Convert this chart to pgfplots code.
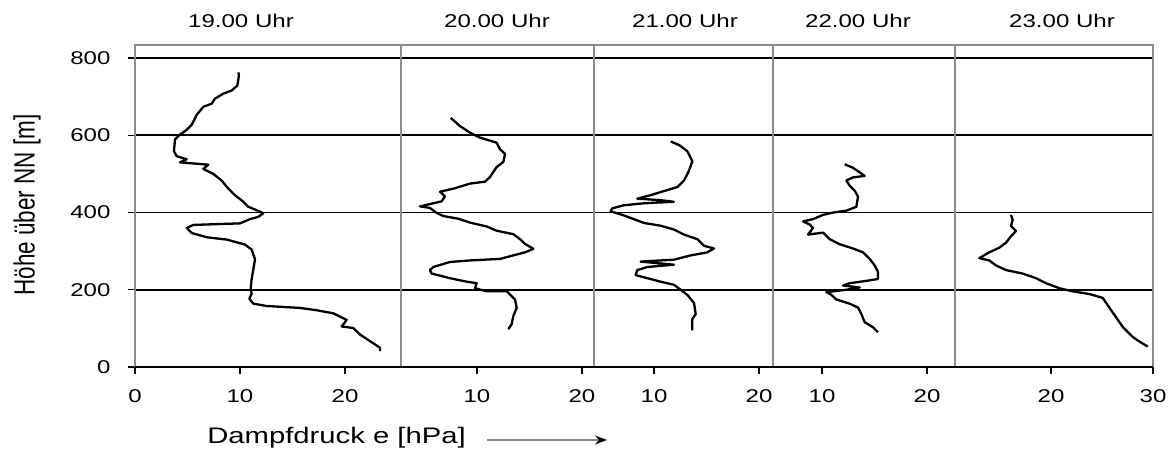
\documentclass[border=0pt]{standalone}
\usepackage{fontspec}
\setmainfont{Liberation Sans}[FakeStretch=1.3]
\newfontfamily\plainfont{Liberation Sans}
\usepackage{graphicx}
\usepackage{pgfplots}
\pgfplotsset{compat=1.18}
\usetikzlibrary{arrows.meta}
\definecolor{framegray}{RGB}{140,140,140}
\pgfplotsset{panel/.style={
  scale only axis, height=322pt, ymin=0, ymax=834,
  anchor=south west, clip=false,
  axis line style={draw=none},
  ytick={0,200,400,600,800},
  ymajorgrids, major grid style={black, line width=1.8pt},
  tick align=outside, xtick pos=left, ytick pos=left,
  major tick length=7pt,
  tick style={black, line width=1.4pt},
  /pgf/number format/assume math mode=true,
  tick label style={font=\fontsize{18.5}{20}\selectfont},
  xticklabel style={yshift=-12pt},
}, prof/.style={black, line width=2.3pt, mark=none, line join=round}}
\begin{document}
\begin{tikzpicture}[x=1pt,y=1pt]
\useasboundingbox (0,0) rectangle (1168,452);
% Panel 1: 19.00 Uhr
\begin{axis}[panel, name=p1, at={(135pt,85pt)}, width=266pt,
  xmin=0, xmax=25.333, xtick={0,10,20},
  yticklabel style={xshift=-14pt}]
\addplot[prof] coordinates {(9.84,763)(9.9,755)(9.75,729)(9.2,716)(8.41,708)(7.62,695)(7.3,682)(6.51,674)(5.87,653)(5.4,627)(4.92,614)(4.29,602)(3.81,589)(3.71,559)(3.97,546)(4.44,542)(4.92,538)(4.29,530)(6.98,524)(6.51,513)(7.46,500)(8.25,483)(8.89,462)(9.52,445)(10.32,428)(10.79,415)(11.6,406)(12.22,398)(11.75,389)(10.95,383)(10.0,372)(5.56,368)(4.92,360)(5.4,347)(6.83,336)(8.73,330)(10.48,317)(11.11,304)(11.43,279)(11.27,253)(11.11,228)(11.02,203)(11.11,190)(10.89,177)(11.27,164)(12.54,158)(15.71,153)(17.3,147)(18.89,139)(20.16,122)(19.68,105)(20.79,101)(21.43,84)(22.38,67)(23.33,50)(23.33,41)};
\end{axis}
% Panel 2: 20.00 Uhr
\begin{axis}[panel, name=p2, at={(401pt,85pt)}, width=193pt,
  xmin=2.762, xmax=21.143, xtick={10,20},
  yticklabels={}, ytick style={draw=none}]
\addplot[prof] coordinates {(7.5,645)(8.38,624)(9.33,607)(10.29,594)(11.87,581)(12.19,564)(12.67,552)(12.51,531)(11.87,518)(11.24,492)(10.76,480)(9.33,475)(7.9,463)(6.48,454)(6.95,442)(6.63,429)(6.0,425)(4.57,416)(5.52,412)(6.16,399)(6.79,391)(8.22,384)(9.33,374)(10.92,364)(11.87,353)(13.46,344)(14.1,331)(14.57,319)(15.37,306)(14.57,297)(12.19,280)(9.33,276)(7.43,272)(5.84,259)(5.52,251)(5.68,242)(7.43,230)(9.02,221)(9.97,217)(9.81,204)(10.92,196)(12.83,196)(13.62,175)(13.78,153)(13.46,132)(13.3,111)(12.98,98)};
\end{axis}
% Panel 3: 21.00 Uhr
\begin{axis}[panel, name=p3, at={(594pt,85pt)}, width=179pt,
  xmin=4.286, xmax=21.333, xtick={10,20},
  yticklabels={}, ytick style={draw=none}]
\addplot[prof] coordinates {(11.59,584)(12.38,575)(13.17,559)(13.65,533)(13.33,508)(12.86,483)(12.22,466)(11.11,457)(9.68,445)(8.41,436)(10.63,432)(11.9,428)(9.05,424)(7.14,419)(6.03,411)(5.87,403)(6.98,394)(7.78,386)(9.05,373)(10.63,366)(11.9,356)(12.86,343)(14.13,331)(14.76,314)(15.71,307)(15.08,297)(13.49,289)(11.9,278)(8.73,273)(11.9,265)(9.37,259)(8.41,251)(8.25,238)(9.37,230)(10.63,221)(11.9,213)(12.54,200)(13.17,187)(13.81,166)(13.97,137)(13.65,124)(13.65,95)};
\end{axis}
% Panel 4: 22.00 Uhr
\begin{axis}[panel, name=p4, at={(773pt,85pt)}, width=182pt,
  xmin=5.333, xmax=22.667, xtick={10,20},
  yticklabels={}, ytick style={draw=none}]
\addplot[prof] coordinates {(12.16,525)(12.95,516)(14.06,495)(12.95,491)(12.32,483)(12.63,470)(13.11,457)(13.43,441)(13.27,415)(12.32,405)(11.05,400)(10.1,394)(9.14,383)(8.19,377)(8.83,369)(9.14,360)(8.67,343)(10.1,348)(10.73,331)(11.68,318)(12.95,307)(13.9,297)(14.54,280)(15.02,263)(15.33,246)(15.33,228)(14.22,223)(12.63,217)(12.0,211)(13.59,206)(12.32,200)(10.41,194)(10.89,187)(11.36,175)(12.63,164)(13.43,154)(13.75,137)(14.06,116)(14.86,103)(15.33,90)};
\end{axis}
% Panel 5: 23.00 Uhr
\begin{axis}[panel, name=p5, at={(955pt,85pt)}, width=198pt,
  xmin=10.588, xmax=30, xtick={20,30},
  yticklabels={}, ytick style={draw=none}]
\addplot[prof] coordinates {(16.08,394)(16.24,381)(16.08,365)(16.57,352)(16.08,339)(15.59,322)(14.93,309)(13.95,297)(12.97,282)(13.95,276)(14.61,263)(15.59,251)(17.22,242)(18.53,230)(19.51,217)(20.82,204)(22.12,196)(23.76,189)(25.07,179)(25.72,154)(26.37,129)(27.03,104)(28.01,78)(28.66,66)(29.48,53)};
\end{axis}
% frame
\draw[framegray, line width=1.8pt] (p1.south west) -- (p1.north west) -- (p5.north east) -- (p5.south east);
\foreach \p in {p2,p3,p4,p5} \draw[framegray, line width=1.8pt] (\p.south west) -- (\p.north west);
\draw[black, line width=1.8pt] (p1.south west) -- (p5.south east);
% titles
\begin{scope}[every node/.style={font=\fontsize{18.5}{20}\selectfont, anchor=base, inner sep=0pt}]
\node at (241,424.5) {19.00 Uhr};
\node at (497,424.5) {20.00 Uhr};
\node at (685,424.5) {21.00 Uhr};
\node at (858,424.5) {22.00 Uhr};
\node at (1062,424.5) {23.00 Uhr};
\end{scope}
% axis labels
\node[font=\fontsize{22.5}{24}\selectfont, anchor=base, inner sep=0pt] at (336.5,8) {Dampfdruck e [hPa]};
\draw[framegray, line width=1.5pt, -{Stealth[length=12pt,width=9pt,black]}] (487,12) -- (607,12);
\node[rotate=90, inner sep=0pt] at (27,247) {\scalebox{1}[1.3]{\plainfont\fontsize{22.5}{24}\selectfont Höhe über NN [m]}};
\end{tikzpicture}
\end{document}
